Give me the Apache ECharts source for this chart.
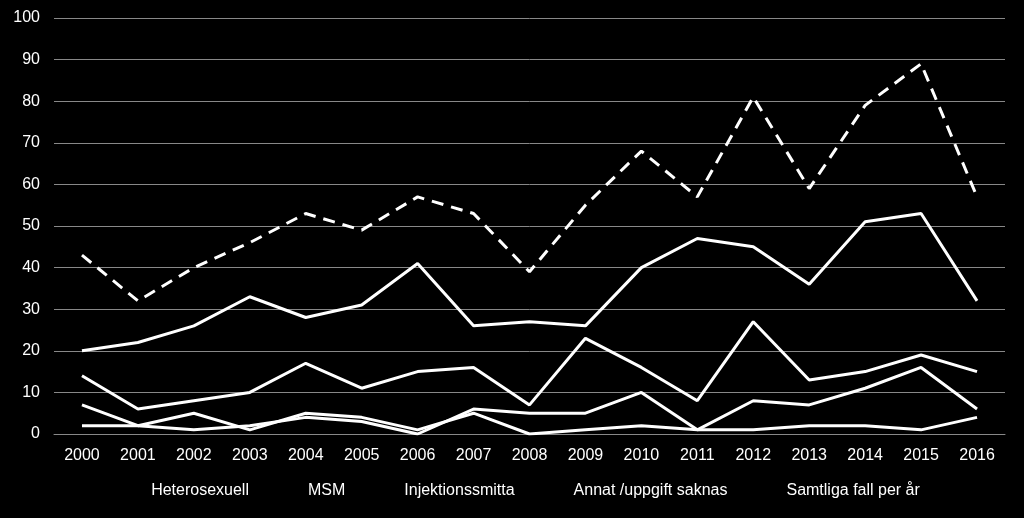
<!DOCTYPE html><html><head><meta charset="utf-8"><script src="https://cdn.jsdelivr.net/npm/echarts@6/dist/echarts.min.js"></script>
<style>body{margin:0;background:#000}#c{width:1024px;height:518px}</style></head><body><div id="c"></div><script>
const years=['2000','2001','2002','2003','2004','2005','2006','2007','2008','2009','2010','2011','2012','2013','2014','2015','2016'];
const hetero=[20,22,26,33,28,31,41,26,27,26,40,47,45,36,51,53,32];
const msm=[14,6,8,10,17,11,15,16,7,23,16,8,27,13,15,19,15];
const inj=[7,2,5,1,5,4,1,5,0,1,2,1,1,2,2,1,4];
const annat=[2,2,1,2,4,3,0,6,5,5,10,1,8,7,11,16,6];
const total=[43,32,40,46,53,49,57,53,39,55,68,57,81,59,79,89,57];
const names=['Heterosexuell','MSM','Injektionssmitta','Annat /uppgift saknas','Samtliga fall per år'];
const data=[hetero,msm,inj,annat,total];
const ft={color:'#fff',fontSize:16,fontFamily:'Liberation Sans'};
echarts.init(document.getElementById('c')).setOption({
backgroundColor:'#000',animation:false,
grid:{left:54,right:19,top:18,bottom:84},
legend:{bottom:14,left:'center',itemWidth:42,itemGap:12,textStyle:ft,icon:'path://M0,0H1V0.1H0Z',itemStyle:{opacity:0},
 data:names},
xAxis:{type:'category',data:years,boundaryGap:true,axisLine:{lineStyle:{color:'#888'}},axisTick:{show:false},axisLabel:{...ft,margin:14}},
yAxis:{type:'value',min:0,max:100,interval:10,axisLine:{show:false},axisLabel:{...ft,margin:14},splitLine:{lineStyle:{color:'#888',width:1}}},
series:data.map((d,i)=>({name:names[i],type:'line',data:d,symbol:'none',lineStyle:{color:'#fff',width:3,type:i==4?[12,8]:'solid'},itemStyle:{color:'#fff'}}))
});
</script></body></html>
